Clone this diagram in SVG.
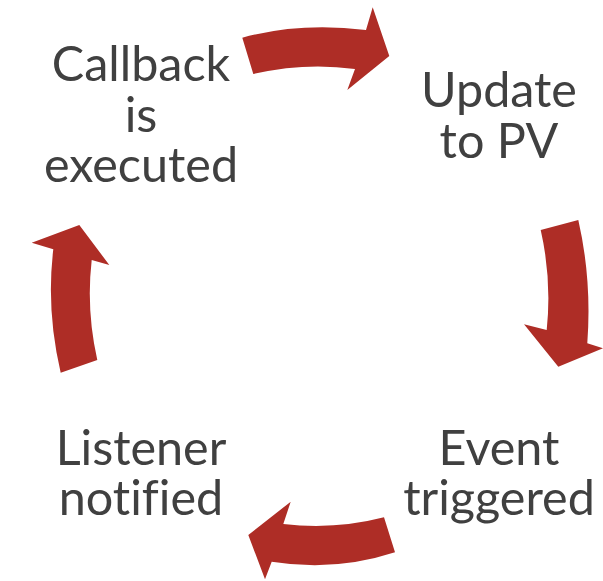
<svg xmlns="http://www.w3.org/2000/svg" width="603" height="581" viewBox="0 0 603 581">
  <style>
    .arrow { fill: #AE2D26; }
    .label { font-family: Lato, "Liberation Sans", sans-serif; font-size: 48.5px; fill: #404040; text-anchor: middle; font-variant-ligatures: none; }
  </style>
  <rect width="603" height="581" fill="#ffffff"/>

  <!-- curved cycle arrows -->
  <g id="connectors">
    <path class="arrow" d="M242.3,37.7 Q300,22 366,30 L372.7,7.3 L389.3,56 L347.3,90 L355,69 Q305,62 253.3,74 Z"/>
    <path class="arrow" d="M540.7,230 L578.3,220 Q592,280 587.3,343.3 L603,348.3 L558.3,366.7 L524,324.3 L546.7,330 Q552,280 540.7,230 Z"/>
    <path class="arrow" d="M384,517.3 L395,552.3 Q335,572 271.7,561.7 L265,579.3 L248.3,535 L290.7,501.7 L283.3,524 Q335,530 384,517.3 Z"/>
    <path class="arrow" d="M60.7,372.7 L97.3,360 Q86,310 91.7,260 L109.3,265 L79.3,225 L31.7,242.7 L53.3,249.3 Q46,310 60.7,372.7 Z"/>
  </g>

  <g id="callback">
    <text class="label" x="141" y="81">Callback</text>
    <text class="label" x="141" y="132">is</text>
    <text class="label" x="141" y="182">executed</text>
  </g>
  <g id="update">
    <text class="label" x="499" y="107">Update</text>
    <text class="label" x="499" y="158">to PV</text>
  </g>
  <g id="event">
    <text class="label" x="499" y="465">Event</text>
    <text class="label" x="499" y="515">triggered</text>
  </g>
  <g id="listener">
    <text class="label" x="141" y="465">Listener</text>
    <text class="label" x="141" y="515">notified</text>
  </g>
</svg>
